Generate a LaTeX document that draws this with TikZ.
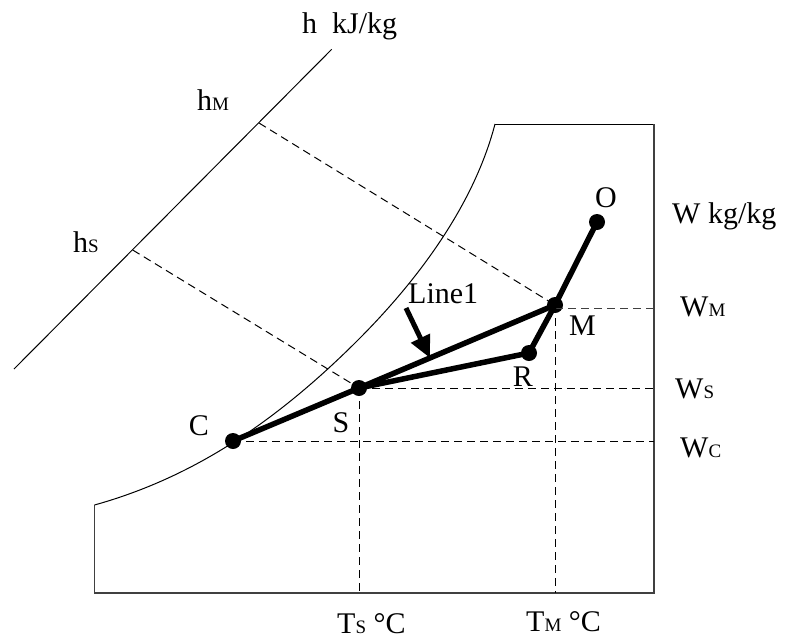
\documentclass[tikz,border=0pt]{standalone}
\usepackage{fontspec}
\setmainfont{Liberation Serif}
\usetikzlibrary{arrows.meta,calc}
\newcommand{\smallsub}[1]{{\fontsize{19}{20}\selectfont #1}}
\begin{document}
\begin{tikzpicture}[x=1pt,y=-1pt,
  thinline/.style={line width=1pt},
  frameline/.style={line width=1.2pt,black!75},
  dline/.style={line width=1pt,dash pattern=on 8pt off 5pt},
  thickline/.style={line width=5.5pt,line cap=round,line join=round},
  dot/.style={circle,fill=black,inner sep=0pt,minimum size=16pt},
  lbl/.style={font=\fontsize{30}{36}\selectfont,inner sep=0pt}]
\useasboundingbox (0,0) rectangle (785,641);

% chart frame corners
\coordinate (tl) at (495,124);
\coordinate (tr) at (654,124);
\coordinate (br) at (654,593);
\coordinate (bl) at (94.5,593);
\coordinate (lc) at (94.5,505);
\coordinate (sm) at (358,340);

% enthalpy axis
\coordinate (h0) at (14,369);
\coordinate (h1) at (331.7,49.3);
\coordinate (hMp) at (259,123);
\coordinate (hSp) at (132.7,250);

% state points
\node[dot] (C) at (233,441) {};
\node[dot] (S) at (359,388) {};
\node[dot] (R) at (529,353) {};
\node[dot] (M) at (555,305) {};
\node[dot] (O) at (597,222) {};

% frame
\draw[thinline] (tl) -- (tr);
\draw[frameline] (tr) -- (br) -- (bl) -- (lc);
% saturation curve
\draw[thinline] (lc) .. controls (184.5,479.8) and (268,430) .. (sm)
                     .. controls (413,285) and (472.9,209) .. (tl);

% h axis
\draw[thinline] (h0) -- (h1);

% dashed construction lines
\draw[dline] (hMp) -- (M.center);
\draw[dline] (hSp) -- (S.center);
\draw[dline,black!75] ([yshift=-3pt]M.center) -- ([yshift=-3pt]M.center -| br);
\draw[dline] (S.center) -- (S.center -| br);
\draw[dline] (C.center) -- (C.center -| br);
\draw[dline] (S.center) -- (S.center |- bl);
\draw[dline] (M.center) -- (M.center |- bl);

% process lines
\draw[thickline] (C.center) -- (S.center) -- (M.center) -- (O.center);
\draw[thickline] (S.center) -- (R.center) -- (M.center);

% Line1 arrow
\coordinate (Ltail) at (406,308);
\coordinate (Ltip) at ($(S.center)!0.362!(M.center)$);
\draw[line width=5pt,-{Triangle[length=22pt,width=20pt]}] (Ltail) -- (Ltip);

% labels
\node[lbl,anchor=base west] (hunit) at (302,33) {h~~kJ/kg};
\node[lbl,anchor=base west] (hMl) at (197,110) {h\smallsub{M}};
\node[lbl,anchor=base west] (hSl) at (73,252) {h\smallsub{S}};
\node[lbl,anchor=base] (Ol) at (606,207) {O};
\node[lbl,anchor=base west] (Wl) at (672,223) {W kg/kg};
\node[lbl,anchor=base west] (WMl) at (680,316) {W\smallsub{M}};
\node[lbl,anchor=base] (Ml) at (582.5,335) {M};
\node[lbl,anchor=base] (Rl) at (523,386) {R};
\node[lbl,anchor=base west] (WSl) at (675,398) {W\smallsub{S}};
\node[lbl,anchor=base west] (WCl) at (680,457) {W\smallsub{C}};
\node[lbl,anchor=base] (Cl) at (199,435) {C};
\node[lbl,anchor=base] (Sl) at (341,432) {S};
\node[lbl,anchor=base west] (TSl) at (337,633) {T\smallsub{S} °C};
\node[lbl,anchor=base west] (TMl) at (526,631) {T\smallsub{M} °C};
\node[lbl,anchor=base west] (L1) at (408,303) {Line1};
\end{tikzpicture}
\end{document}
